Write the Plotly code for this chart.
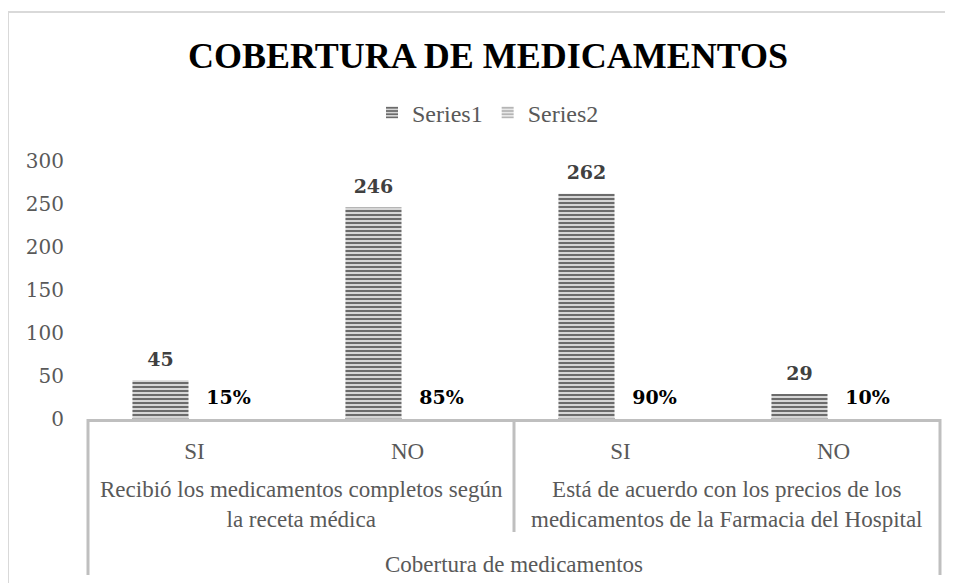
import plotly.graph_objects as go

# ---- data ----
groups = [
    "Recibió los medicamentos completos según<br>la receta médica",
    "Está de acuerdo con los precios de los<br>medicamentos de la Farmacia del Hospital",
]
group_of_bar = [0, 0, 1, 1]
answers = ["SI", "NO", "SI", "NO"]
series1 = [45, 246, 262, 29]
series2 = [0.15, 0.85, 0.90, 0.10]
series_names = ["Series1", "Series2"]
y_ticks = [0, 50, 100, 150, 200, 250, 300]
title_text = "COBERTURA DE MEDICAMENTOS"
axis_title = "Cobertura de medicamentos"

# unique category keys (group + answer); the axis shows only the answer text
cat_keys = [f"{groups[g]}|{a}" for g, a in zip(group_of_bar, answers)]

# page has an 8px body margin, so the figure is drawn 8px in from the window corner
OFF = 8
W, H = 953 - OFF, 583 - OFF
L, T = 88 - OFF, 161 - OFF
plot_w, plot_h = 852, 258
R = W - L - plot_w
B = H - T - plot_h

def py(ref_y):  # reference pixel y -> paper
    return (T + plot_h - (ref_y - OFF)) / plot_h

def px(ref_x):
    return ((ref_x - OFF) - L) / plot_w

GRAY_TXT = "#595959"
LINE = "#bfbfbf"
SERIF = "Liberation Serif"

fig = go.Figure()
fig.add_trace(go.Bar(
    x=cat_keys, y=series1, name=series_names[0],
    marker=dict(color="#d6d6d6", line=dict(width=0),
                pattern=dict(shape="-", fgcolor="#5f5f5f", bgcolor="#d6d6d6",
                             size=4, solidity=0.45, fillmode="replace")),
    hovertext=answers, hoverinfo="text+y",
))
fig.add_trace(go.Bar(
    x=cat_keys, y=series2, name=series_names[1],
    marker=dict(color="#e8e8e8", line=dict(width=0),
                pattern=dict(shape="-", fgcolor="#b0b0b0", bgcolor="#e8e8e8",
                             size=4, solidity=0.45, fillmode="replace")),
    hovertext=answers, hoverinfo="text+y",
))
# data labels, grouped the same way as the bars
fig.add_trace(go.Scatter(
    x=cat_keys, y=series1, mode="markers+text", offsetgroup="l1",
    marker=dict(size=14, color="rgba(0,0,0,0)"),
    texttemplate="<b>%{y}</b>", textposition="top center", cliponaxis=False,
    textfont=dict(family="DejaVu Serif", size=19, color="#404040"),
    showlegend=False, hoverinfo="skip",
))
fig.add_trace(go.Scatter(
    x=cat_keys, y=series2, mode="markers+text", offsetgroup="l2",
    marker=dict(size=14, color="rgba(0,0,0,0)"),
    texttemplate="<b>%{y:.0%}</b>", textposition="top center", cliponaxis=False,
    textfont=dict(family="DejaVu Serif", size=19, color="#000000"),
    showlegend=False, hoverinfo="skip",
))

shapes = []
# outer chart border (top and left)
shapes.append(dict(type="line", xref="paper", yref="paper",
                   x0=px(8), x1=px(953), y0=py(12), y1=py(12),
                   line=dict(color="#d9d9d9", width=2)))
shapes.append(dict(type="line", xref="paper", yref="paper",
                   x0=px(8), x1=px(8), y0=py(12), y1=py(583),
                   line=dict(color="#d9d9d9", width=2)))
# category box dividers
shapes.append(dict(type="line", xref="paper", yref="paper",
                   x0=0, x1=0, y0=0, y1=py(575), line=dict(color=LINE, width=3)))
shapes.append(dict(type="line", xref="paper", yref="paper",
                   x0=1, x1=1, y0=0, y1=py(575), line=dict(color=LINE, width=3)))
shapes.append(dict(type="line", xref="paper", yref="paper",
                   x0=0.5, x1=0.5, y0=0, y1=py(532), line=dict(color=LINE, width=3)))

# group (second level) labels, centred under each pair of categories
annotations = []
n_groups = len(groups)
for gi, gtxt in enumerate(groups):
    annotations.append(dict(
        text=gtxt, xref="paper", yref="paper",
        x=(gi + 0.5) / n_groups, y=py(504), xanchor="center", yanchor="middle",
        showarrow=False, align="center",
        font=dict(family=SERIF, size=23, color=GRAY_TXT)))

fig.update_layout(
    width=W, height=H,
    margin=dict(l=L, r=R, t=T, b=B, pad=0, autoexpand=False),
    paper_bgcolor="white", plot_bgcolor="white",
    barmode="group", bargap=0.361, bargroupgap=0.176,
    scattermode="group", scattergap=0.361,
    title=dict(text=f"<b>{title_text}</b>", x=(488 - OFF) / W, xanchor="center",
               y=1 - (55 - OFF) / H, yanchor="middle", xref="container", yref="container",
               font=dict(family=SERIF, size=36, color="#000000")),
    legend=dict(orientation="h", x=(488 - OFF) / W, xanchor="center", xref="container",
                y=1 - (113 - OFF) / H, yanchor="middle", yref="container",
                font=dict(family=SERIF, size=24, color=GRAY_TXT),
                itemwidth=30, bgcolor="rgba(0,0,0,0)"),
    xaxis=dict(type="category", categoryorder="array", categoryarray=cat_keys,
               tickvals=cat_keys, ticktext=answers, automargin=False,
               showline=True, linecolor=LINE, linewidth=3,
               showgrid=False, ticks="outside", ticklen=9, tickcolor="rgba(0,0,0,0)",
               tickfont=dict(family=SERIF, size=23, color=GRAY_TXT),
               title=dict(text=axis_title, standoff=94,
                          font=dict(family=SERIF, size=23, color=GRAY_TXT))),
    yaxis=dict(range=[0, 300], tickvals=y_ticks, showgrid=False, zeroline=False,
               showline=False, automargin=False,
               ticks="outside", ticklen=19, tickcolor="rgba(0,0,0,0)",
               tickfont=dict(family="DejaVu Serif", size=20, color=GRAY_TXT)),
    shapes=shapes,
    annotations=annotations,
    showlegend=True,
)

fig.write_html("out.html")
